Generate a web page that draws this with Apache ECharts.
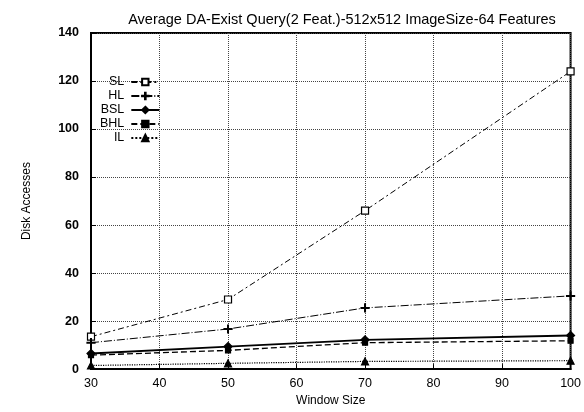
<!DOCTYPE html>
<html><head><meta charset="utf-8">
<script src="https://cdn.jsdelivr.net/npm/echarts@6/dist/echarts.min.js"></script>
<style>html,body{margin:0;padding:0;background:#fff}#c{width:584px;height:412px}</style>
</head><body><div id="c"></div>
<script>
const windowSizes = [30, 50, 70, 100];
const SL  = [13.5, 29, 66, 124];
const HL  = [11, 16.7, 25.5, 30.5];
const BSL = [6.5, 9.4, 12.2, 14];
const BHL = [5.8, 7.8, 11, 11.8];
const IL  = [1.5, 2.4, 3.2, 3.5];
const xTicks = [30, 40, 50, 60, 70, 80, 90, 100];
const yTicks = [0, 20, 40, 60, 80, 100, 120, 140];

const font = 'Liberation Sans, Arial, sans-serif';
function pairs(v){ return windowSizes.map((x,i)=>[x, v[i]]); }
function mk(name, data, symbol, size, lineType, width, fill){
  return {name, type:'line', data:pairs(data), symbol, symbolSize:size,
    lineStyle:{color:'#000', width, type:lineType},
    itemStyle:{color: fill ? '#000' : '#fff', borderColor:'#000', borderWidth:1.2},
    emphasis:{disabled:true}, animation:false};
}
const chart = echarts.init(document.getElementById('c'));
chart.setOption({
  backgroundColor:'#fff',
  title:{text:'Average DA-Exist Query(2 Feat.)-512x512 ImageSize-64 Features', left:337, textAlign:'center', top:7,
    textStyle:{fontFamily:font, fontSize:14.5, fontWeight:'normal', color:'#000'}},
  grid:{left:91, right:13, top:33, bottom:36, show:true, borderColor:'#000', borderWidth:2},
  legend:{orient:'vertical', left:95, top:70, align:'right', itemGap:0, itemWidth:28, itemHeight:8,
    textStyle:{fontFamily:font, fontSize:12.5, color:'#000', padding:[0,2,0,0], lineHeight:14},
    data:['SL','HL','BSL','BHL','IL']},
  xAxis:{type:'value', min:30, max:100, interval:10, name:'Window Size', nameLocation:'middle', nameGap:19,
    nameTextStyle:{fontFamily:font, fontSize:12, color:'#000'},
    axisLine:{lineStyle:{color:'#000', width:2}},
    axisTick:{inside:true, length:5, lineStyle:{color:'#000'}},
    axisLabel:{fontFamily:font, fontSize:12.5, color:'#000', margin:8},
    splitLine:{show:true, lineStyle:{color:'#444', type:'dotted', width:1}}},
  yAxis:{type:'value', min:0, max:140, interval:20, name:'Disk Accesses', nameLocation:'middle', nameGap:58,
    nameTextStyle:{fontFamily:font, fontSize:12, color:'#000'},
    axisLine:{show:true, lineStyle:{color:'#000', width:2}},
    axisTick:{show:true, inside:true, length:5, lineStyle:{color:'#000'}},
    axisLabel:{fontFamily:font, fontSize:12.5, fontWeight:'bold', color:'#000', margin:12},
    splitLine:{show:true, lineStyle:{color:'#444', type:'dotted', width:1}}},
  series:[
    mk('SL', SL, 'rect', 7, [6,3,2,3], 1, false),
    mk('HL', HL, 'path://M0,4.5 L10,4.5 L10,5.5 L0,5.5 Z M4.5,0 L5.5,0 L5.5,10 L4.5,10 Z', 8, [8,2,1,2], 1, true),
    mk('BSL', BSL, 'diamond', 8, 'solid', 1.8, true),
    mk('BHL', BHL, 'rect', 5, [6,3], 1.3, true),
    mk('IL', IL, 'triangle', 7, 'dotted', 1.2, true)
  ]
});
</script></body></html>
